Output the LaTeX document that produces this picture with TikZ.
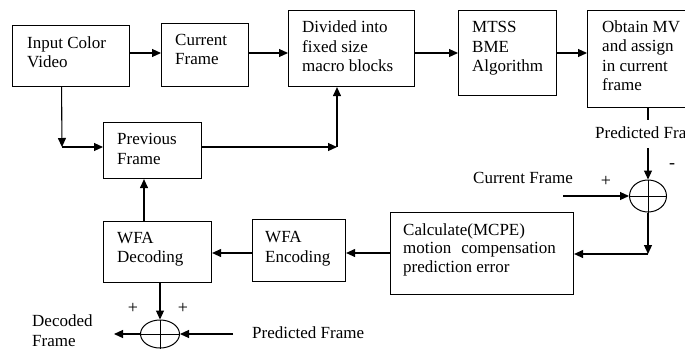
\documentclass[tikz,border=0pt]{standalone}
\usepackage{fontspec}
\setmainfont{Liberation Serif}
\usetikzlibrary{arrows.meta,shapes.geometric}
\begin{document}
\begin{tikzpicture}[x=1pt,y=-1pt,
  box/.style={draw, line width=1.1pt, inner sep=0pt, anchor=north west},
  txt/.style={anchor=base west, align=left, inner sep=0pt, font=\fontsize{17}{19.5}\selectfont},
  sgn/.style={inner sep=0pt, font=\fontsize{18}{18}\selectfont},
  arr/.style={line width=1.1pt, -{Triangle[length=9pt,width=8pt]}},
  ln/.style={line width=1.1pt},
  sumnode/.style={draw, ellipse, line width=1pt, inner sep=0pt}]
\clip (0,0) rectangle (685,349);
\fill[white] (0,0) rectangle (685,349);
% boxes
\node[box, minimum width=117, minimum height=61] (inp) at (12,25) {};
\node[box, minimum width=87, minimum height=63] (cur) at (161,23) {};
\node[box, minimum width=126, minimum height=76] (div) at (288,10) {};
\node[box, minimum width=98, minimum height=85] (mtss) at (458,10) {};
\node[box, minimum width=120, minimum height=97] (obt) at (587,10) {};
\node[box, minimum width=98, minimum height=56] (prev) at (103,122) {};
\node[box, minimum width=108, minimum height=61] (dec) at (103,221) {};
\node[box, minimum width=93, minimum height=62] (enc) at (252,219) {};
\node[box, minimum width=183, minimum height=82] (calc) at (390,212) {};
% texts (anchored at the baseline of their last line)
\node[txt] (tinp) at (27,67.5) {Input Color\\Video};
\node[txt] (tcur) at (175,64.5) {Current\\Frame};
\node[txt] (tdiv) at (302,71.5) {Divided into\\fixed size\\macro blocks};
\node[txt] (tmtss) at (472,71.5) {MTSS\\BME\\Algorithm};
\node[txt] (tobt) at (602,90.5) {Obtain MV\\and assign\\in current\\frame};
\node[txt] (tprev) at (117,164) {Previous\\Frame};
\node[txt] (tdec) at (117,262.5) {WFA\\Decoding};
\node[txt] (tenc) at (265,262) {WFA\\Encoding};
\node[txt, font=\fontsize{17}{18.7}\selectfont] (tcalc) at (403,272.5) {Calculate(MCPE)\\motion\hspace{10pt}compensation\\prediction error};
% summing junctions
\node[sumnode, minimum width=37, minimum height=32] (s1) at (648,196) {};
\draw[line width=1pt] (s1.north) -- (s1.south) (s1.west) -- (s1.east);
\node[sumnode, minimum width=39, minimum height=28] (s2) at (160,334) {};
\draw[line width=1pt] (s2.north) -- (s2.south) (s2.west) -- (s2.east);
% free labels
\node[txt] (lpf1) at (595,138) {Predicted Frame};
\node[txt] (lcf) at (473,183) {Current Frame};
\node[txt] (ldf) at (32,346) {Decoded\\Frame};
\node[txt] (lpf2) at (252,338) {Predicted Frame};
\node[sgn] (p1) at (606,181) {+};
\node[sgn] (m1) at (672,166) {-};
\node[sgn] (p2) at (133,308) {+};
\node[sgn] (p3) at (183,308) {+};
% connectors
\coordinate (r1) at (0,53);
\draw[arr] (inp.east |- r1) -- (cur.west |- r1);
\draw[arr] (cur.east |- r1) -- (div.west |- r1);
\draw[arr] (div.east |- r1) -- (mtss.west |- r1);
\draw[arr] (mtss.east |- r1) -- (obt.west |- r1);
\coordinate (a1) at (62,147);
\draw[arr] ([xshift=-9.5]inp.south) -- (a1);
\draw[arr] (a1) -- (prev.west |- a1);
\coordinate (a2) at (337,147);
\draw[arr] (prev.east |- a2) -- (a2);
\draw[arr] (a2) -- (div.south -| a2);
\coordinate (a3) at (144,0);
\draw[arr] (dec.north -| a3) -- (prev.south -| a3);
\coordinate (r2) at (0,253);
\draw[arr] (enc.west |- r2) -- (dec.east |- r2);
\draw[arr] (calc.west |- r2) -- (enc.east |- r2);
\coordinate (a4) at (648,120);
\draw[ln] (obt.south -| a4) -- (a4);
\coordinate (a5) at (648,148);
\draw[arr] (a5) -- (s1.north);
\coordinate (a6) at (563,196);
\draw[arr] (a6) -- (s1.west);
\coordinate (a7) at (648,254);
\draw[arr] (s1.south) -- (a7);
\draw[arr] (a7) -- (calc.east |- a7);
\draw[arr] (dec.south -| s2.north) -- (s2.north);
\coordinate (a8) at (114,334);
\draw[arr] (s2.west) -- (a8);
\coordinate (a9) at (233,334);
\draw[arr] (a9) -- (s2.east);
\end{tikzpicture}
\end{document}
